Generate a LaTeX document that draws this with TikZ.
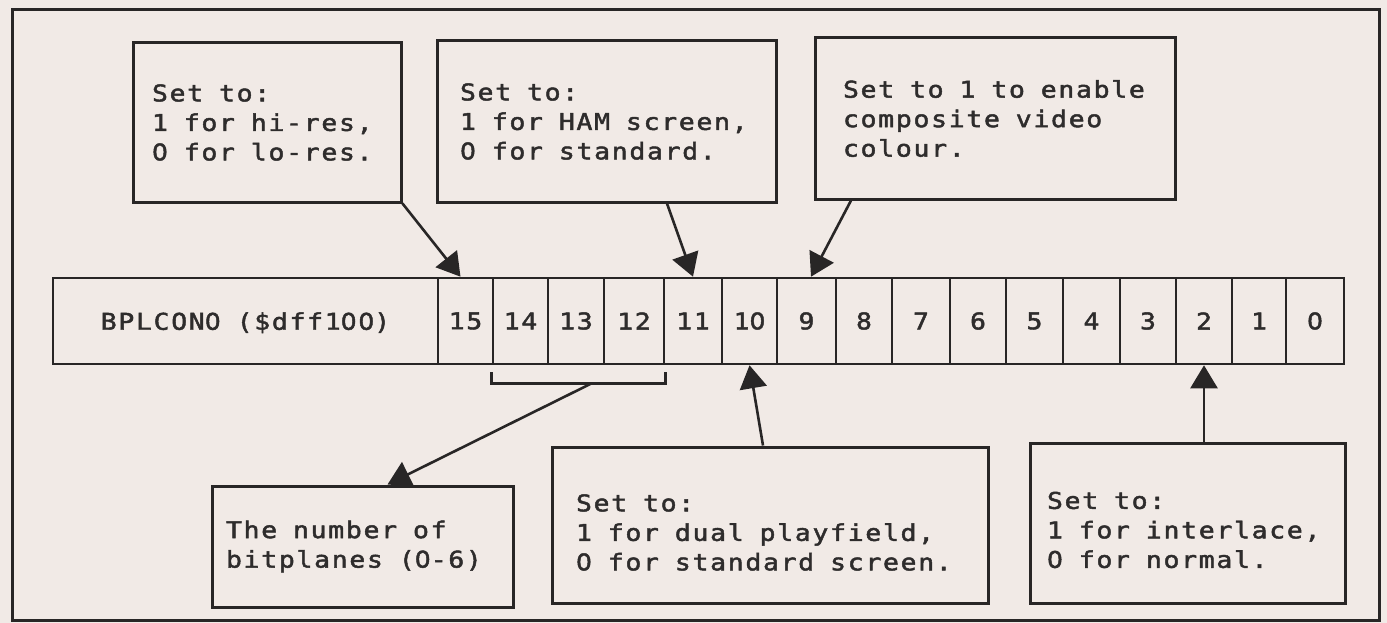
\documentclass[tikz,border=0pt]{standalone}
\usepackage{fontspec}
\usetikzlibrary{arrows.meta,calc}
\newfontfamily\monofam{DejaVu Sans Mono}[LetterSpace=7.4, FakeStretch=1.15, FakeBold=2]
\newfontfamily\zerofam{DejaVu Sans}[LetterSpace=7.4, FakeStretch=1.09, FakeBold=2]
\newcommand\zr{{\zerofam 0}}
\definecolor{bg}{RGB}{241,234,230}
\definecolor{ink}{RGB}{40,38,38}
\definecolor{txt}{RGB}{46,44,44}
\tikzset{
  note/.style={draw=ink, line width=3pt, align=flush left, inner ysep=0pt, text=txt,
    font={\monofam\fontsize{23}{29.5}\selectfont\spaceskip=15.9pt\relax\xspaceskip=15.9pt\relax}},
  cell/.style={draw=ink, line width=2.6pt, minimum height=86pt, inner sep=0pt, text=txt,
    font={\monofam\fontsize{23}{28}\selectfont\spaceskip=15.9pt\relax}},
  link/.style={draw=ink, line width=2.6pt, -{Triangle[length=23pt,width=27pt]}},
  frame/.style={draw=ink, line width=3pt},
  brace/.style={draw=ink, line width=2.6pt},
}
\begin{document}
\begin{tikzpicture}[x=1pt,y=-1pt]
\fill[bg] (0,0) rectangle (1387,623);
\useasboundingbox (0,0) rectangle (1387,623);
\draw[frame] (12,10) rectangle (1379,620);

% register
\node[cell, minimum width=385pt, text depth=0pt] (reg) at (245.5,321) {BPLCON\zr{} (\$dff1\zr\zr)};
\foreach \b/\t/\l/\r in {15/15/438/493, 14/14/493/548, 13/13/548/604, 12/12/604/664, 11/11/664/722,
  10/1\zr/722/777, 9/9/777/836, 8/8/836/892, 7/7/892/950, 6/6/950/1006, 5/5/1006/1063,
  4/4/1063/1120, 3/3/1120/1176, 2/2/1176/1232, 1/1/1232/1286, 0/\zr/1286/1344}
  \node[cell, minimum width={(\r-\l)*1pt}] (c\b) at ({(\l+\r)/2},321) {\t};

% notes
\node[note, text width=230pt, inner xsep=19pt, minimum height=159pt] (b1) at (267,122.5)
  {\mbox{Set to:}\\\mbox{1 for hi-res,}\\\mbox{\zr{} for lo-res.}};
\node[note, text width=293pt, inner xsep=23pt, minimum height=161pt] (b2) at (606.5,121.5)
  {\mbox{Set to:}\\\mbox{1 for HAM screen,}\\\mbox{\zr{} for standard.}};
\node[note, text width=304pt, inner xsep=28pt, minimum height=161pt] (b3) at (995,118.5)
  {\mbox{Set to 1 to enable}\\\mbox{composite video}\\\mbox{colour.}};
\node[note, text width=273pt, inner xsep=14pt, minimum height=121pt] (b4) at (362.5,546.5)
  {\mbox{The number of}\\\mbox{bitplanes (\zr-6)}};
\node[note, text width=388pt, inner xsep=24pt, minimum height=156pt, text height=32pt] (b5) at (770,525)
  {\mbox{Set to:}\\\mbox{1 for dual playfield,}\\\mbox{\zr{} for standard screen.}};
\node[note, text width=281pt, inner xsep=17pt, minimum height=160pt, text height=31pt] (b6) at (1187.5,523)
  {\mbox{Set to:}\\\mbox{1 for interlace,}\\\mbox{\zr{} for normal.}};

% bracket under bits 14-12
\draw[brace] ($(c14.south west)+(0,7)$) -- ($(c14.south west)+(0,18)$)
  -- ($(c12.south east)+(0,18)$) -- ($(c12.south east)+(0,7)$);
\coordinate (brk) at ($(c14.south west)+(100,18)$);

% connectors
\draw[link] (b1.south east) -- ([xshift=-5pt]c15.north);
\draw[link] ([xshift=60.5pt]b2.south) -- (c11.north);
\draw[link] ([xshift=-144pt]b3.south) -- ([xshift=4.5pt]c9.north);
\draw[link] ([xshift=-7pt]b5.north) -- (c10.south);
\draw[link] (b6.north -| c2.south) -- (c2.south);
\draw[link] (brk) -- ([xshift=25pt]b4.north);
\end{tikzpicture}
\end{document}
